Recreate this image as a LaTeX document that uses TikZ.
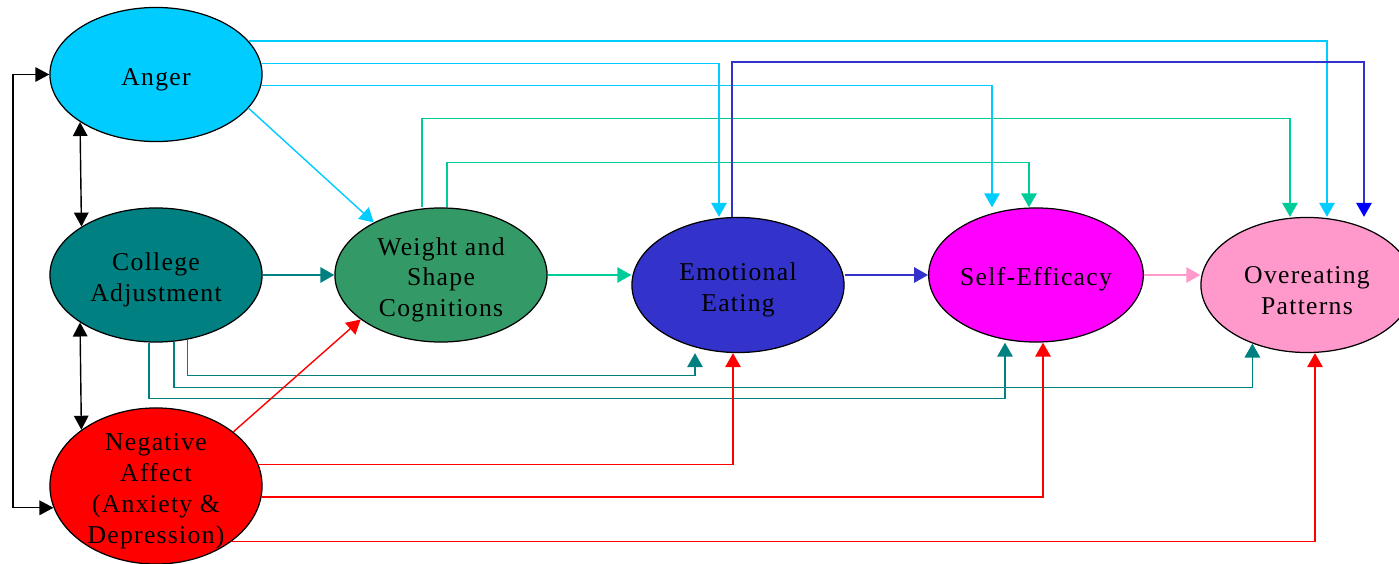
\documentclass[tikz,border=0pt]{standalone}
\usepackage{fontspec}
\setmainfont{Liberation Serif}[LetterSpace=5]
\usetikzlibrary{arrows.meta,calc,shapes.geometric}
\definecolor{angercol}{HTML}{00CCFF}
\definecolor{collegecol}{HTML}{008080}
\definecolor{weightcol}{HTML}{339966}
\definecolor{emotcol}{HTML}{3333CC}
\definecolor{selfcol}{HTML}{FF00FF}
\definecolor{overcol}{HTML}{FF99CC}
\definecolor{negcol}{HTML}{FF0000}
\definecolor{wlinecol}{HTML}{00CC99}

\begin{document}
\begin{tikzpicture}[x=0.01cm, y=-0.01cm,
	factor/.style={ellipse, draw=black, line width=0.35pt, minimum width=2.12cm, minimum height=1.34cm, inner xsep=0pt, inner ysep=-0.12cm, align=center, font=\fontsize{7.3}{8.8}\selectfont, text height={0.275cm+(#1-1)*8.8pt}},
	factor/.default=1,
	link/.style={line width=0.4pt, -{Triangle[length=1.4mm,width=1.55mm]}},
	bi/.style={line width=0.4pt, {Triangle[length=1.4mm,width=1.45mm]}-{Triangle[length=1.4mm,width=1.45mm]}}]
			%%%%% START %%%%%
			
			\useasboundingbox (0,0) rectangle (1399,564);
			
			\node[factor, fill=angercol] (anger) at (156,74.5) {Anger};
			\node[factor=2, fill=collegecol] (college) at (156,275) {College\\Adjustment};
			\node[factor=4, fill=negcol, minimum height=1.56cm] (neg) at (156,486) {Negative\\Affect\\(Anxiety \&\\Depression)};
			\node[factor=3, fill=weightcol] (weight) at (441,275) {Weight and\\Shape\\Cognitions};
			\node[factor=2, fill=emotcol, minimum height=1.35cm] (emot) at (738,285) {Emotional\\Eating};
			\node[factor, fill=selfcol] (self) at (1036,275) {Self-Efficacy};
			\node[factor=2, fill=overcol, minimum height=1.35cm] (over) at (1307,285) {Overeating\\Patterns};
			
			\coordinate (loop) at (13,0);
			\draw[bi] (anger.212.5) -- (college.147.5);
			\draw[bi] (college.212.5) -- (neg.143.7);
			\draw[bi] (anger.west) -- (anger.west -| loop) |- (neg.192);
			
			\draw[link, angercol] (anger.-20) -- (weight.142);
			\draw[link, angercol] (anger.20) -| ($(over.north)+(20,0)$);
			\draw[link, angercol] (anger.6) -| ($(emot.north)+(-19,0)$);
			\draw[link, angercol] (anger.-6) -| ($(self.north)+(-44,0)$);
			
			\draw[link, collegecol] (college.east) -- (weight.west);
			\draw[link, collegecol] (college.-64) -- ++(0,36) -| ($(emot.south)+(-43,0)$);
			\draw[link, collegecol] (college.-75) -- ++(0,46) -| (over.227);
			\draw[link, collegecol] (college.-96) -- ++(0,56) -| ($(self.south)+(-31,0)$);
			
			\draw[link, wlinecol] (weight.east) -- (weight.east -| emot.west);
			\draw[link, wlinecol] ($(weight.north)+(-19,0)$) -- ++(0,-89) -| ($(over.north)+(-17,0)$);
			\draw[link, wlinecol] ($(weight.north)+(6,0)$) -- ++(0,-45) -| ($(self.north)+(-7,0)$);
			
			\draw[link, emotcol] (self.west -| emot.east) -- (self.west);
			\draw[line width=0.4pt, emotcol, -{Triangle[length=1.4mm,width=1.55mm,color=blue]}] ($(emot.north)+(-6,0)$) -- ++(0,-155) -| ($(over.north)+(57,0)$);
			
			\draw[link, overcol] (self.east) -- (self.east -| over.west);
			
			\draw[link, negcol] (neg.35) -- (weight.209);
			\draw[link, negcol] (neg.12.6) -| ($(emot.south)+(-5,0)$);
			\draw[link, negcol] (neg.-6) -| ($(self.south)+(7,0)$);
			\draw[link, negcol] (neg.-36.4) -| ($(over.south)+(8,0)$);
			
			%%%%% END %%%%%
		\end{tikzpicture}
\end{document}
